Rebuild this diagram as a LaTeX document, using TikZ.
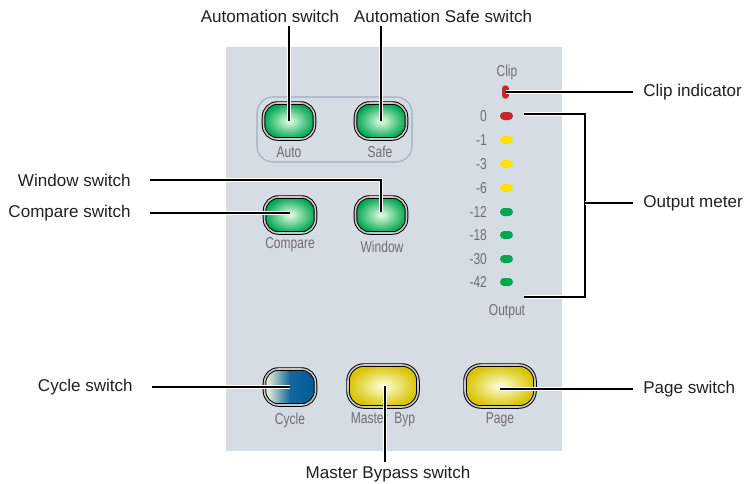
\documentclass[tikz,border=0pt]{standalone}
\usepackage{fontspec}
\setmainfont{Liberation Sans}
\newfontfamily\panelfont[FakeStretch=0.76]{Liberation Sans}
\usetikzlibrary{positioning}
\definecolor{panel}{HTML}{D6DCE4}
\definecolor{grpline}{HTML}{A3ACBF}
\definecolor{ledgrn}{HTML}{00A651}
\definecolor{ledylw}{HTML}{FFE100}
\definecolor{ledred}{HTML}{C1272D}
\definecolor{btnylw}{HTML}{D8C400}
\definecolor{btnblu}{HTML}{005A96}
\definecolor{tagtxt}{HTML}{6D6E71}
\definecolor{notetxt}{HTML}{231F20}
\tikzset{
  btn/.style    ={draw=black,line width=0.55pt,double=black!22,double distance=0.9pt,
                  rounded corners=0.28cm,minimum width=1.02cm,minimum height=0.72cm,inner sep=0pt},
  grnbtn/.style ={btn,inner color=green!10!white,outer color=ledgrn},
  ylwbtn/.style ={btn,minimum width=1.4cm,minimum height=0.84cm,rounded corners=0.32cm,
                  inner color=yellow!12!white,outer color=btnylw},
  blubtn/.style ={btn,left color=yellow!15!white,right color=btnblu,middle color=btnblu!92!white},
  led/.style    ={fill=#1,minimum width=0.26cm,minimum height=0.16cm,rounded corners=0.08cm,inner sep=0pt},
  clipled/.style={fill=ledred,minimum width=0.14cm,minimum height=0.27cm,
                  rounded corners=0.07cm,inner sep=0pt},
  tag/.style    ={font=\panelfont\fontsize{9}{10}\selectfont,text=tagtxt,inner sep=1pt},
  note/.style   ={font=\fontsize{9.7}{11}\selectfont,text=notetxt,inner sep=2pt},
  lnote/.style  ={note,anchor=east,inner xsep=0.38cm},
  rnote/.style  ={note,anchor=west,inner xsep=0.2cm},
  callout/.style={line width=0.8pt,preaction={draw=white,line width=2.4pt}},
}
\begin{document}
\begin{tikzpicture}[x=0.02cm,y=-0.02cm]
  \useasboundingbox (0,0) rectangle (745,484);
  \fill[panel] (226,47) rectangle (562,451);
  \draw[grpline,line width=0.6pt,rounded corners=0.32cm] (257,97) rectangle (412,162);

  \node[grnbtn] (auto) at (289,121) {};
  \node[grnbtn] (safe) at (381,121) {};
  \node[grnbtn] (compare) at (290,215) {};
  \node[grnbtn] (window) at (381,215) {};
  \node[blubtn] (cycle) at (290,387) {};
  \node[ylwbtn] (mbyp) at (383,386) {};
  \node[ylwbtn] (page) at (500,386) {};

  \node[tag] at (289,152) {Auto};
  \node[tag] at (380,152) {Safe};
  \node[tag] at (290,245) {Compare};
  \node[tag] at (382,247) {Window};
  \node[tag] at (290,420) {Cycle};
  \node[tag] at (383,420) {Master\ \ Byp};
  \node[tag] at (500,420) {Page};

  \node[tag] at (507,72) {Clip};
  \node[clipled] (clip) at (505.5,92) {};
  \foreach \y/\v/\c [count=\i] in {116/0/ledred,140/-1/ledylw,164/-3/ledylw,188/-6/ledylw,
      212/-12/ledgrn,235/-18/ledgrn,259/-30/ledgrn,282/-42/ledgrn}{
    \node[tag,anchor=east] at (489,\y) {\v};
    \node[led=\c] (led\i) at (506.5,\y) {};
  }
  \node[tag] at (507,312) {Output};

  \node[note] (autonote) at (270,16) {Automation switch};
  \node[note] (safenote) at (443,16) {Automation Safe switch};
  \node[lnote] (winnote) at (150,180) {Window switch};
  \node[lnote] (cmpnote) at (150,213) {Compare switch};
  \node[lnote] (cycnote) at (152,387) {Cycle switch};
  \node[note] (mbnote) at (388,474) {Master Bypass switch};
  \node[rnote] (clipnote) at (633,92) {Clip indicator};
  \node[rnote] (meternote) at (633,203) {Output meter};
  \node[rnote] (pagenote) at (633,389) {Page switch};

  \coordinate (mtop) at (524,114);
  \coordinate (mbot) at (524,297);
  \coordinate (mbr) at (585,203);

  \draw[callout] (auto.center) -- (auto.center |- autonote.south);
  \draw[callout] (safe.center) -- (safe.center |- safenote.south);
  \draw[callout] (winnote.east) -| ([yshift=0.06cm]window.center);
  \draw[callout] (cmpnote.east) -- (cmpnote.east -| compare.center);
  \draw[callout] (cycnote.east) -- (cycle.center);
  \draw[callout] ([xshift=0.04cm]mbyp.center) -- ([xshift=0.04cm]mbyp.center |- mbnote.north);
  \draw[callout] (page.center |- pagenote.west) -- (pagenote.west);
  \draw[callout] (clip.center) -- (clipnote.west);
  \draw[callout] (mtop) -| (mbr) |- (mbot);
  \draw[callout] (mbr) -- (meternote.west);
\end{tikzpicture}
\end{document}
